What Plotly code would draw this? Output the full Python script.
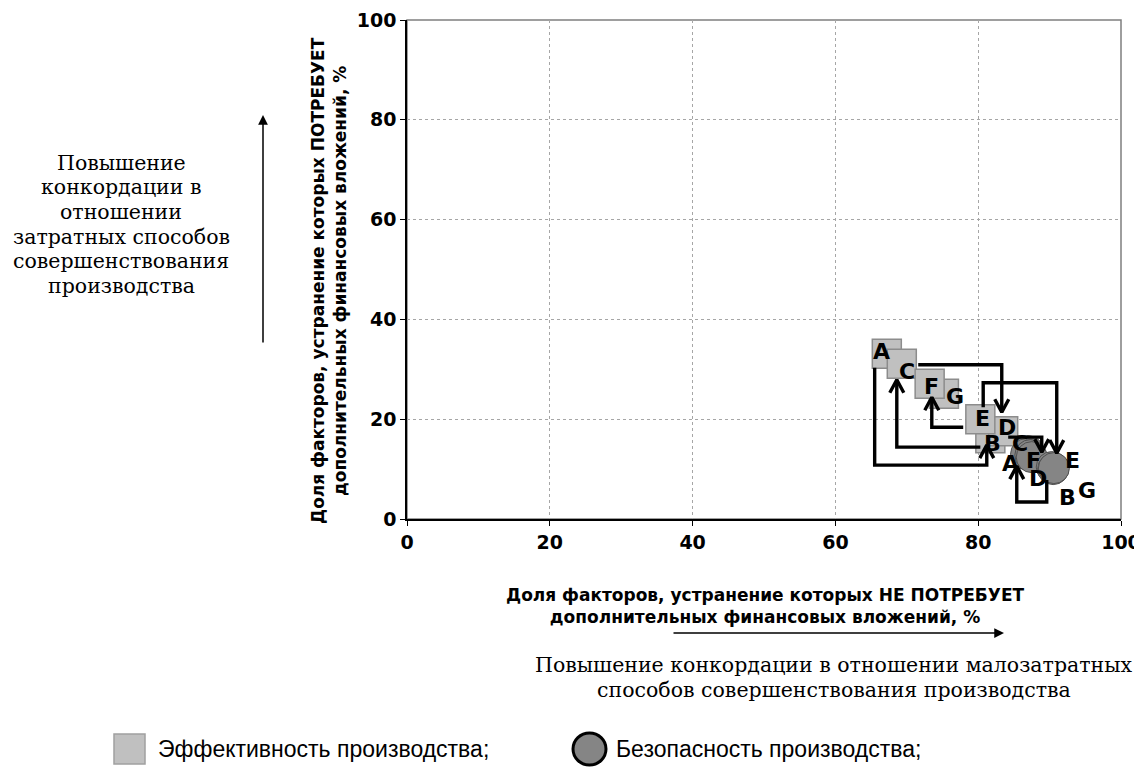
import plotly.graph_objects as go

# ---------------- data ----------------
letters_sq = ["A", "C", "G", "F", "B", "D", "E"]
eff_x = [67.2, 69.3, 75.2, 73.2, 81.7, 83.5, 80.3]
eff_y = [33.1, 31.1, 25.1, 27.1, 16.2, 17.6, 20.0]

letters_ci = ["C", "A", "F", "D", "E", "B", "G"]
saf_x = [87.0, 86.7, 87.3, 87.5, 90.3, 90.5, 90.6]
saf_y = [13.6, 13.0, 12.8, 12.4, 10.4, 10.0, 10.2]

# arrow routes (data units), last point = arrow tip
arrow_routes = [
    [(65.5, 30.3), (65.5, 10.8), (81.2, 10.8), (81.2, 14.8)],
    [(80.3, 14.4), (68.6, 14.4), (68.6, 27.9)],
    [(77.9, 18.4), (73.5, 18.4), (73.5, 24.4)],
    [(71.6, 30.9), (83.3, 30.9), (83.3, 21.4)],
    [(80.7, 22.4), (80.7, 27.3), (91.0, 27.3), (91.0, 13.2)],
    [(84.2, 16.4), (88.9, 16.4), (88.9, 13.4)],
    [(89.6, 7.8), (89.6, 3.4), (85.4, 3.4), (85.4, 10.6)],
]

x_ticks = [0, 20, 40, 60, 80, 100]
y_ticks = [0, 20, 40, 60, 80, 100]

x_title = "Доля факторов, устранение которых НЕ ПОТРЕБУЕТ<br>дополнительных финансовых вложений, %"
y_title = "Доля факторов, устранение которых ПОТРЕБУЕТ<br>дополнительных финансовых вложений, %"
right_note = ["Повышение конкордации в отношении малозатратных",
              "способов совершенствования производства"]
left_note = ["Повышение", "конкордации в", "отношении",
             "затратных способов", "совершенствования", "производства"]
legend_names = ["Эффективность производства;", "Безопасность производства;"]

# ---------------- style / layout ----------------
OFF = 8                       # page body margin of the html page
W, H = 1142 - OFF, 767 - OFF
ML, MT = 407 - OFF, 20 - OFF
PW, PH = 714, 499
MR, MB = W - ML - PW, H - MT - PH
XR, YR = (0, 100), (0, 100)
sx = PW / (XR[1] - XR[0])   # px per x unit
sy = PH / (YR[1] - YR[0])   # px per y unit

sq_label_shift = [(-5, 2), (5, -8), (11, -3), (2, -3), (2, -5), (4, 4), (2, 1)]
ci_label_shift = [(-8, 8), (-16, -9), (3, -5), (6, -21), (21, 7), (14, -28), (33, -22)]

SQ_FILL, SQ_LINE = "#c0c0c0", "#8c8c8c"
CI_FILL, CI_LINE = "#858585", "#505050"
LBL_FONT = dict(family="DejaVu Sans", size=22, color="black")

fig = go.Figure()

fig.add_trace(go.Scatter(
    x=eff_x, y=eff_y, mode="markers", name=legend_names[0],
    marker=dict(symbol="square", size=29, color=SQ_FILL, line=dict(color=SQ_LINE, width=1.5)),
    showlegend=False, hoverinfo="skip"))

fig.add_trace(go.Scatter(
    x=saf_x, y=saf_y, mode="markers", name=legend_names[1],
    marker=dict(symbol="circle", size=31, color=CI_FILL, line=dict(color=CI_LINE, width=1)),
    showlegend=False, hoverinfo="skip"))

# arrows
head_half_px, head_len_px = 7, 13
for route in arrow_routes:
    xs = [p[0] for p in route]
    ys = [p[1] for p in route]
    fig.add_trace(go.Scatter(x=xs, y=ys, mode="lines",
                             line=dict(color="black", width=3.4),
                             showlegend=False, hoverinfo="skip"))
    (x0, y0), (x1, y1) = route[-2], route[-1]
    dxp, dyp = (x1 - x0) * sx, (y1 - y0) * sy
    L = (dxp ** 2 + dyp ** 2) ** 0.5
    ux, uy = dxp / L, dyp / L
    px_, py_ = -uy, ux
    a1 = (x1 + (-ux * head_len_px + px_ * head_half_px) / sx,
          y1 + (-uy * head_len_px + py_ * head_half_px) / sy)
    a2 = (x1 + (-ux * head_len_px - px_ * head_half_px) / sx,
          y1 + (-uy * head_len_px - py_ * head_half_px) / sy)
    fig.add_trace(go.Scatter(x=[a1[0], x1, a2[0]], y=[a1[1], y1, a2[1]], mode="lines",
                             line=dict(color="black", width=3.4),
                             showlegend=False, hoverinfo="skip"))

annotations = []
for t, x, y, (dx, dy) in zip(letters_sq, eff_x, eff_y, sq_label_shift):
    annotations.append(dict(x=x, y=y, xref="x", yref="y", text="<b>%s</b>" % t,
                            showarrow=False, xshift=dx, yshift=dy, font=LBL_FONT))
for t, x, y, (dx, dy) in zip(letters_ci, saf_x, saf_y, ci_label_shift):
    annotations.append(dict(x=x, y=y, xref="x", yref="y", text="<b>%s</b>" % t,
                            showarrow=False, xshift=dx, yshift=dy, font=LBL_FONT))

def px2paper_x(px):      # px given in window pixels
    return (px - OFF - ML) / PW

def px2paper_y(py):
    return (H - MB - (py - OFF)) / PH

BOLD = dict(family="DejaVu Sans", size=17, color="black")
SERIF = dict(family="DejaVu Serif", size=20.5, color="black")

annotations.append(dict(x=px2paper_x(765), y=px2paper_y(606), xref="paper", yref="paper",
                        text="<b>%s</b>" % x_title, showarrow=False, font=BOLD,
                        xanchor="center", yanchor="middle", align="center"))
annotations.append(dict(x=px2paper_x(329), y=px2paper_y(281), xref="paper", yref="paper",
                        text="<b>%s</b>" % y_title, showarrow=False, font=BOLD, textangle=-90,
                        xanchor="center", yanchor="middle", align="center"))
right_line_y = [665, 690]
for txt, yy in zip(right_note, right_line_y):
    annotations.append(dict(x=px2paper_x(834), y=px2paper_y(yy), xref="paper", yref="paper",
                            text=txt, showarrow=False, font=SERIF,
                            xanchor="center", yanchor="middle"))
left_line_y = [163, 187.5, 212, 236.5, 261, 285.5]
for txt, yy in zip(left_note, left_line_y):
    annotations.append(dict(x=px2paper_x(121), y=px2paper_y(yy), xref="paper", yref="paper",
                            text=txt, showarrow=False, font=SERIF,
                            xanchor="center", yanchor="middle"))
# direction arrows (tail given in pixel offsets from head)
annotations.append(dict(x=px2paper_x(1004), y=px2paper_y(633), ax=672 - 1004, ay=0,
                        xref="paper", yref="paper", axref="pixel", ayref="pixel", text="",
                        showarrow=True, arrowhead=2, arrowsize=1.3, arrowwidth=1.5, arrowcolor="black"))
annotations.append(dict(x=px2paper_x(263), y=px2paper_y(115), ax=0, ay=344 - 115,
                        xref="paper", yref="paper", axref="pixel", ayref="pixel", text="",
                        showarrow=True, arrowhead=2, arrowsize=1.3, arrowwidth=1.5, arrowcolor="black"))
# legend
LEG_Y = 749
LEG = dict(family="Liberation Sans", size=23, color="black")
annotations.append(dict(x=px2paper_x(491), y=px2paper_y(LEG_Y), xref="paper", yref="paper",
                        text=legend_names[0], showarrow=False, font=LEG, xanchor="right", yanchor="middle"))
annotations.append(dict(x=px2paper_x(614), y=px2paper_y(LEG_Y), xref="paper", yref="paper",
                        text=legend_names[1], showarrow=False, font=LEG, xanchor="left", yanchor="middle"))

shapes = [
    dict(type="rect", xref="paper", yref="paper", x0=0, x1=1, y0=0, y1=1,
         line=dict(color="#7f7f7f", width=1.5), layer="below"),
    dict(type="rect", xref="paper", yref="paper",
         x0=px2paper_x(114), x1=px2paper_x(145), y0=px2paper_y(LEG_Y + 15), y1=px2paper_y(LEG_Y - 15),
         fillcolor=SQ_FILL, line=dict(color="#a0a0a0", width=1.5)),
    dict(type="circle", xref="paper", yref="paper",
         x0=px2paper_x(573), x1=px2paper_x(606), y0=px2paper_y(LEG_Y + 16), y1=px2paper_y(LEG_Y - 16),
         fillcolor=CI_FILL, line=dict(color="black", width=3)),
]

TICK = dict(family="DejaVu Sans", size=19, color="black")
fig.update_layout(
    width=W, height=H,
    margin=dict(l=ML, r=MR, t=MT, b=MB, autoexpand=False),
    paper_bgcolor="white", plot_bgcolor="white",
    showlegend=False,
    annotations=annotations, shapes=shapes,
    xaxis=dict(range=list(XR), tickvals=x_ticks, ticktext=["<b>%d</b>" % v for v in x_ticks],
               showgrid=True, gridcolor="#a6a6a6", griddash="dot", gridwidth=1,
               showline=True, linecolor="black", linewidth=1.5, zeroline=False,
               ticks="outside", ticklen=5, tickcolor="black", tickfont=TICK, fixedrange=True),
    yaxis=dict(range=list(YR), tickvals=y_ticks, ticktext=["<b>%d</b>" % v for v in y_ticks],
               showgrid=True, gridcolor="#a6a6a6", griddash="dot", gridwidth=1,
               showline=True, linecolor="black", linewidth=1.5, zeroline=False,
               ticks="outside", ticklen=5, tickcolor="black", tickfont=TICK, fixedrange=True),
)

fig.write_html("out.html")
